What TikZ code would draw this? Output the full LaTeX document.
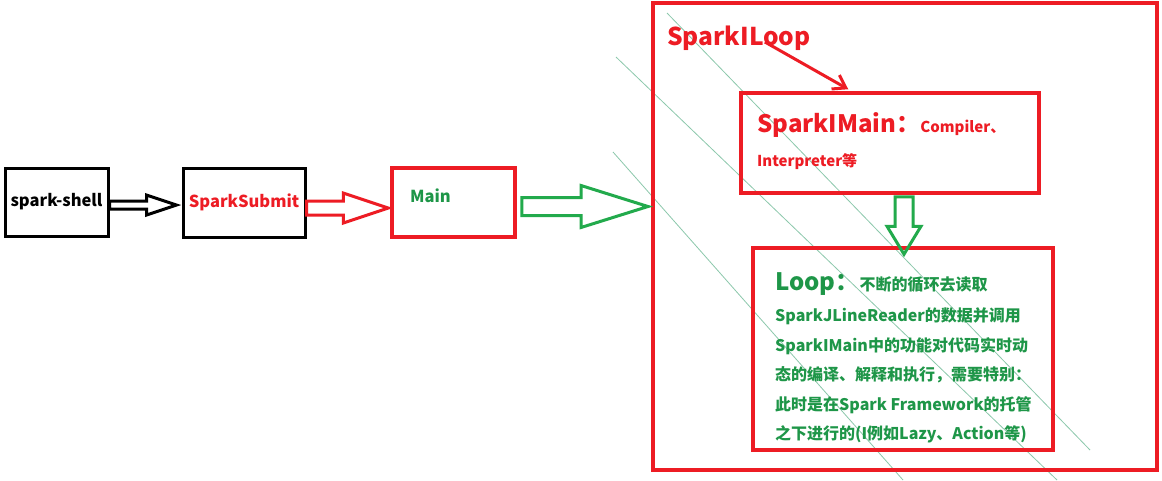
\documentclass[tikz,border=0pt]{standalone}
\usepackage{fontspec}
\setmainfont{Noto Sans CJK SC}
\usepackage{tikz}
\usetikzlibrary{calc,arrows.meta}
\definecolor{pred}{RGB}{237,28,36}
\definecolor{pgreen}{RGB}{34,170,76}
\definecolor{tgreen}{RGB}{30,150,72}
\definecolor{hatch}{RGB}{140,200,172}
\tikzstyle{blackbox} = [draw=black, line width=3pt, inner sep=0pt, text centered]
\tikzstyle{redbox} = [draw=pred, line width=3.5pt, inner sep=0pt]
\tikzstyle{fat} = [line width=3pt, line join=miter]
\tikzstyle{hatchline} = [hatch, line width=0.8pt]
% hollow block arrow: style, from, to, shaft half, head half, head length
\newcommand{\harrow}[6]{\draw[#1] let \p1=(#2), \p2=(#3) in
  (\x1,\y1+#4pt) -- (\x2-#6pt,\y1+#4pt) -- (\x2-#6pt,\y1+#5pt) -- (\x2,\y1)
  -- (\x2-#6pt,\y1-#5pt) -- (\x2-#6pt,\y1-#4pt) -- (\x1,\y1-#4pt) -- cycle;}
\newcommand{\varrow}[6]{\draw[#1] let \p1=(#2), \p2=(#3) in
  (\x1-#4pt,\y1) -- (\x1-#4pt,\y2+#6pt) -- (\x1-#5pt,\y2+#6pt) -- (\x1,\y2)
  -- (\x1+#5pt,\y2+#6pt) -- (\x1+#4pt,\y2+#6pt) -- (\x1+#4pt,\y1) -- cycle;}

\begin{document}
\begin{tikzpicture}[x=1pt, y=-1pt, font=\bfseries]

\useasboundingbox[fill=white] (0,0) rectangle (1162,480);

% faint diagonal strokes
\draw[hatchline] (667,13) -- (1090,450);
\draw[hatchline] (616,57) -- (1057,480);
\draw[hatchline] (613,152) -- (903,480);

\node[blackbox, minimum width=103pt, minimum height=68pt, font=\bfseries\fontsize{16.5}{20}\selectfont] (shell) at (56.5,202) {spark-shell};
\node[blackbox, minimum width=122pt, minimum height=69pt, text=pred, font=\bfseries\fontsize{16.5}{20}\selectfont] (submit) at (244,202.5) {SparkSubmit};
\node[redbox, minimum width=123pt, minimum height=69pt] (main) at (453.5,202.5) {};
\node[anchor=west, text=tgreen, inner sep=0pt, font=\bfseries\fontsize{16.5}{20}\selectfont] (maintext) at (410,196) {Main};

\node[redbox, line width=4pt, minimum width=504pt, minimum height=467pt] (iloop) at (905,236.5) {};
\node[anchor=west, text=pred, inner sep=0pt, font=\bfseries\fontsize{24.5}{30}\selectfont] (iloopname) at (667,38) {SparkILoop};

\node[redbox, minimum width=298pt, minimum height=100pt] (imain) at (890,143) {};
\node[anchor=north west, text=pred, inner sep=0pt, align=left, font=\bfseries\fontsize{15}{34}\selectfont] (imaintext) at (757,112)
  {{\fontsize{24}{34}\selectfont SparkIMain：}Compiler、\\
   Interpreter等};

\node[redbox, minimum width=300pt, minimum height=202pt] (loop) at (903,349) {};
\node[anchor=north west, text=tgreen, inner sep=0pt, align=left, font=\bfseries\fontsize{16}{29.5}\selectfont] (looptext) at (775,272)
  {{\fontsize{24}{30}\selectfont Loop：}不断的循环去读取\\[2pt]
   SparkJLineReader的数据并调用\\
   SparkIMain中的功能对代码实时动\\
   态的编译、解释和执行，需要特别：\\
   此时是在Spark Framework的托管\\
   之下进行的(I例如Lazy、Action等)};

\harrow{fat, black}{$(shell.east)+(0,3)$}{$(submit.west)+(-5,3)$}{4}{10}{30}
\harrow{fat, pred}{$(submit.east)+(0,5.5)$}{$(main.west)+(-2,5.5)$}{7}{15}{45}
\harrow{fat, pgreen}{$(main.east)+(5,4)$}{$(iloop.west)+(-3,-30.5)$}{9}{21}{67}
\varrow{fat, pgreen}{$(imain.south)+(14,2)$}{$(loop.north)+(0,8)$}{9}{17}{28}

\draw[pred, line width=3pt, -{Straight Barb[length=12pt, width=16pt]}]
  ($(iloopname.center)+(26,4)$) to ($(imain.north west)+(109,-2)$);

\end{tikzpicture}
\end{document}
